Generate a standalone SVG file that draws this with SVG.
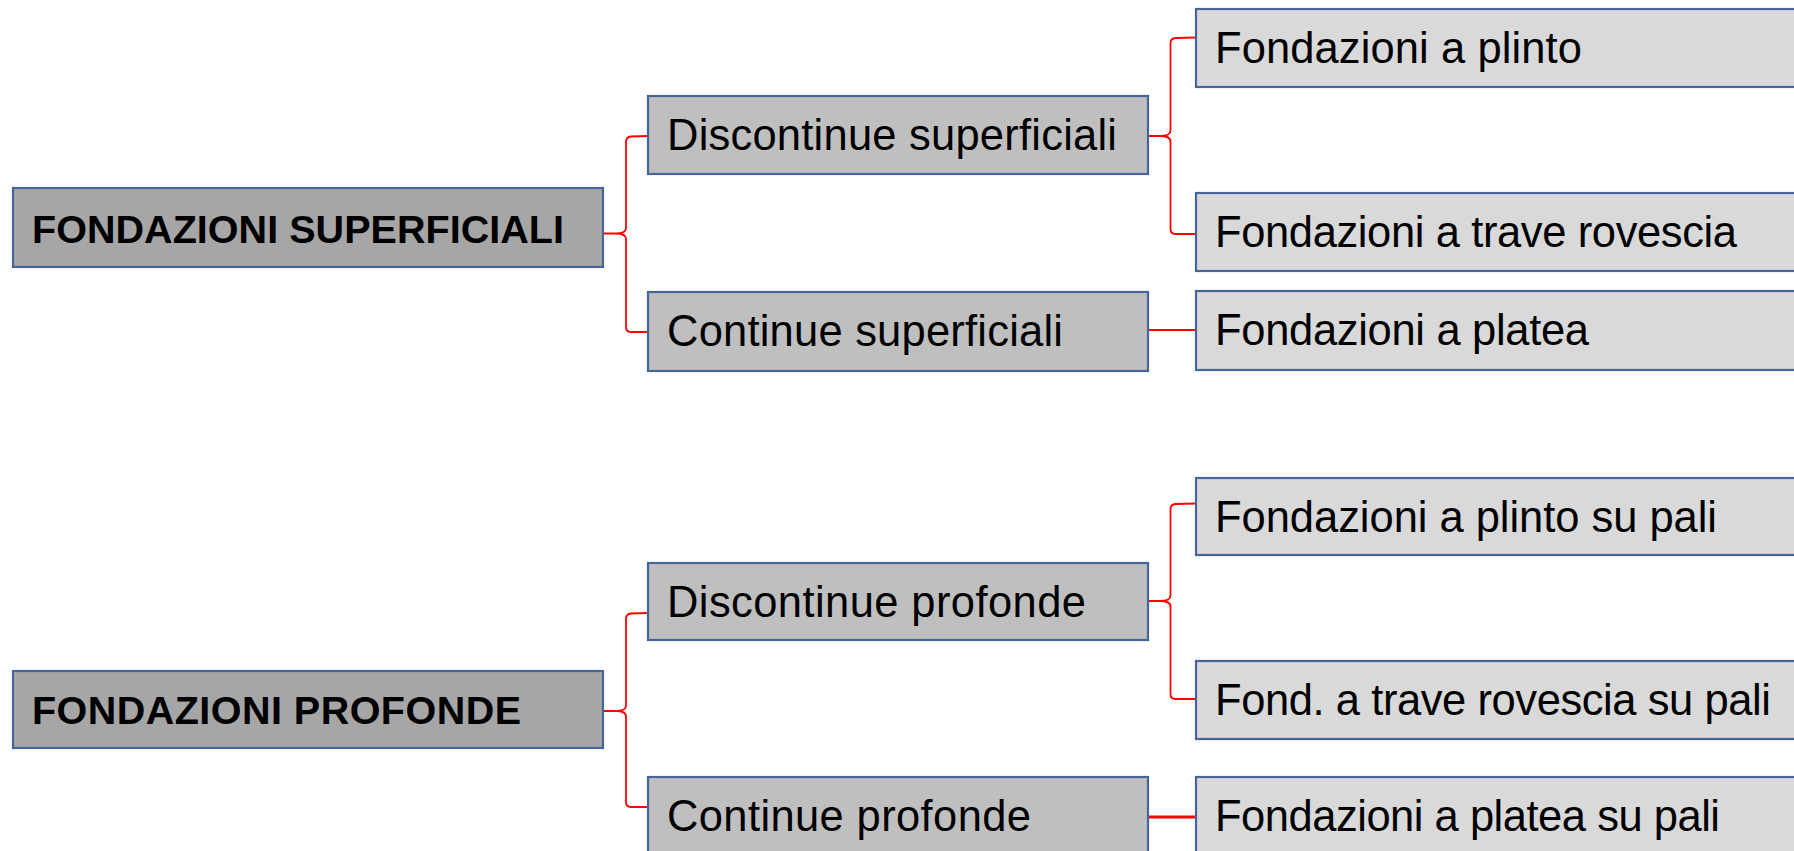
<svg xmlns="http://www.w3.org/2000/svg" width="1794" height="851" viewBox="0 0 1794 851">
<style>
.box{stroke:#44669a;stroke-width:2.2}
.b1{fill:#a6a6a6}
.b2{fill:#bfbfbf}
.b3{fill:#d9d9d9}
.t{font-family:"Liberation Sans",Arial,sans-serif;font-size:43.5px;fill:#000}
.tb{font-family:"Liberation Sans",Arial,sans-serif;font-size:39.5px;font-weight:bold;fill:#000}
.c{fill:none;stroke:#ff0000;stroke-width:1.8}
</style>
<rect width="1794" height="851" fill="#ffffff"/>
<g id="connectors">
<path class="c" d="M648,136 L631,136.5 Q626,137 626,142 L626,228 Q626,233.5 616,233.5 L603,233.5 M616,233.5 Q626,233.5 626,239 L626,327 Q626,332 631,332 L648,332"/>
<path class="c" d="M1196,37.5 L1175.5,38 Q1170.5,38.5 1170.5,43 L1170.5,130.5 Q1170.5,136 1160,136 L1148,136 M1160,136 Q1170.5,136 1170.5,141.5 L1170.5,229 Q1170.5,234 1175.5,234 L1196,234"/>
<path class="c" d="M1148,330 L1196,330" style="stroke-width:2"/>
<path class="c" d="M648,613 L631,613.5 Q626,614 626,619 L626,705.5 Q626,711 616,711 L603,711 M616,711 Q626,711 626,716.5 L626,802 Q626,807 631,807 L648,807"/>
<path class="c" d="M1196,503.5 L1175.5,504 Q1170.5,504.5 1170.5,509 L1170.5,595.5 Q1170.5,601 1160,601 L1148,601 M1160,601 Q1170.5,601 1170.5,606.5 L1170.5,694 Q1170.5,699 1175.5,699 L1196,699"/>
<path class="c" d="M1148,817 L1196,817" style="stroke-width:3"/>
</g>
<g id="n-fondazioni-superficiali">
<rect class="box b1" x="13" y="188" width="590" height="79"/>
<text class="tb" x="32" y="243" textLength="532">FONDAZIONI SUPERFICIALI</text>
</g>
<g id="n-fondazioni-profonde">
<rect class="box b1" x="13" y="671" width="590" height="77"/>
<text class="tb" x="32" y="724" textLength="489">FONDAZIONI PROFONDE</text>
</g>
<g id="n-discontinue-superficiali">
<rect class="box b2" x="648" y="96" width="500" height="78"/>
<text class="t" x="667" y="150" textLength="450">Discontinue superficiali</text>
</g>
<g id="n-continue-superficiali">
<rect class="box b2" x="648" y="292" width="500" height="79"/>
<text class="t" x="667" y="346" textLength="396">Continue superficiali</text>
</g>
<g id="n-discontinue-profonde">
<rect class="box b2" x="648" y="563" width="500" height="77"/>
<text class="t" x="667" y="617" textLength="419">Discontinue profonde</text>
</g>
<g id="n-continue-profonde">
<rect class="box b2" x="648" y="777" width="500" height="80"/>
<text class="t" x="667" y="831" textLength="364">Continue profonde</text>
</g>
<g id="n-plinto">
<rect class="box b3" x="1196" y="9" width="610" height="78"/>
<text class="t" x="1215" y="63" textLength="367">Fondazioni a plinto</text>
</g>
<g id="n-trave">
<rect class="box b3" x="1196" y="193" width="610" height="78"/>
<text class="t" x="1215" y="247" textLength="522">Fondazioni a trave rovescia</text>
</g>
<g id="n-platea">
<rect class="box b3" x="1196" y="291" width="610" height="79"/>
<text class="t" x="1215" y="345" textLength="374">Fondazioni a platea</text>
</g>
<g id="n-plinto-pali">
<rect class="box b3" x="1196" y="478" width="610" height="77"/>
<text class="t" x="1215" y="532" textLength="502">Fondazioni a plinto su pali</text>
</g>
<g id="n-trave-pali">
<rect class="box b3" x="1196" y="661" width="610" height="78"/>
<text class="t" x="1215" y="715" textLength="556">Fond. a trave rovescia su pali</text>
</g>
<g id="n-platea-pali">
<rect class="box b3" x="1196" y="777" width="610" height="80"/>
<text class="t" x="1215" y="831" textLength="505">Fondazioni a platea su pali</text>
</g>
</svg>
